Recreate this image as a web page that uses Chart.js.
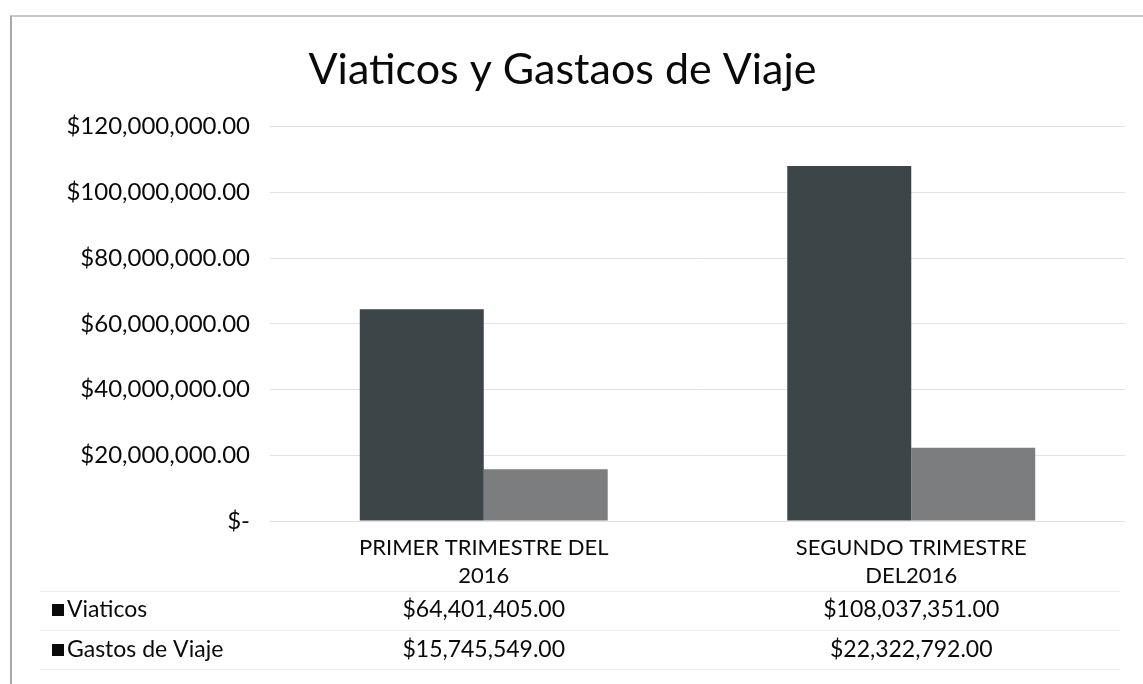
<!DOCTYPE html>
<html>
<head>
<meta charset="utf-8">
<script src="https://cdn.jsdelivr.net/npm/chart.js@4"></script>
<style>
  html, body { margin: 0; padding: 0; background: #fff; }
  #wrap { position: relative; width: 1143px; height: 684px; overflow: hidden; }
  #frame { position: absolute; left: 10px; top: 15px; width: 1140px; height: 680px;
           border-left: 2px solid #a8a8a8; border-top: 2px solid #c8c8c8; }
  canvas { position: absolute; left: 0; top: 0; }
</style>
</head>
<body>
<div id="wrap">
  <div id="frame"></div>
  <canvas id="chart" width="1143" height="684"></canvas>
</div>
<script>
const categories = [["PRIMER TRIMESTRE DEL", "2016"], ["SEGUNDO TRIMESTRE", "DEL2016"]];
const seriesNames = ["Viaticos", "Gastos de Viaje"];
const viaticos = [64401405, 108037351];
const gastosViaje = [15745549, 22322792];
const yTicks = [0, 20000000, 40000000, 60000000, 80000000, 100000000, 120000000];
const colors = ["#3c4547", "#7b7d7e"];
const FONT = "Lato, 'Open Sans', sans-serif";

function money(v) {
    if (v === 0) return "$-";
    return "$" + v.toLocaleString("en-US", { minimumFractionDigits: 2, maximumFractionDigits: 2 });
}

// draws the data table below the category labels
const dataTable = {
    id: "dataTable",
    afterDraw(chart) {
        const ctx = chart.ctx;
        const x = chart.scales.x;
        const rows = [viaticos, gastosViaje];
        const rowY = [610, 650];
        ctx.save();
        ctx.strokeStyle = "#ececec";
        ctx.lineWidth = 1;
        [591, 630, 669].forEach(y => {
            ctx.beginPath(); ctx.moveTo(40, y + 0.5); ctx.lineTo(1120, y + 0.5); ctx.stroke();
        });
        ctx.font = "23px " + FONT;
        ctx.textBaseline = "middle";
        rows.forEach((vals, i) => {
            ctx.fillStyle = "#0a0a0a";
            ctx.fillRect(52, rowY[i] - 6, 12, 12);
            ctx.textAlign = "left";
            ctx.fillText(seriesNames[i], 67, rowY[i]);
            ctx.textAlign = "center";
            vals.forEach((v, j) => ctx.fillText(money(v), x.getPixelForValue(j), rowY[i]));
        });
        ctx.restore();
    }
};

const ctx = document.getElementById("chart").getContext("2d");
new Chart(ctx, {
    type: "bar",
    data: {
        labels: categories,
        datasets: [
            { label: seriesNames[0], data: viaticos, backgroundColor: colors[0], borderWidth: 0 },
            { label: seriesNames[1], data: gastosViaje, backgroundColor: colors[1], borderWidth: 0 }
        ]
    },
    options: {
        responsive: false,
        animation: false,
        layout: { padding: { left: 0, right: 18, top: 0, bottom: 0 } },
        datasets: { bar: { categoryPercentage: 0.58, barPercentage: 1.0 } },
        plugins: {
            legend: { display: false },
            tooltip: { enabled: false },
            title: {
                display: true,
                text: "Viaticos y Gastaos de Viaje",
                color: "#0a0a0a",
                font: { family: FONT, size: 43, weight: "normal" },
                padding: { top: 44, bottom: 31 }
            }
        },
        scales: {
            x: {
                grid: { display: false },
                border: { display: false },
                ticks: { color: "#0a0a0a", font: { family: FONT, size: 22, lineHeight: 1.27 }, padding: 5, maxRotation: 0 },
                afterFit(scale) { scale.height = 163; }
            },
            y: {
                min: 0,
                max: 120000000,
                afterBuildTicks(scale) { scale.ticks = yTicks.map(v => ({ value: v })); },
                afterFit(scale) { scale.width = 270; },
                grid: { color: "#e2e2e2", drawTicks: false },
                border: { display: false },
                ticks: { color: "#0a0a0a", font: { family: FONT, size: 24 }, padding: 20, callback: v => money(v) }
            }
        }
    },
    plugins: [dataTable]
});
</script>
</body>
</html>
